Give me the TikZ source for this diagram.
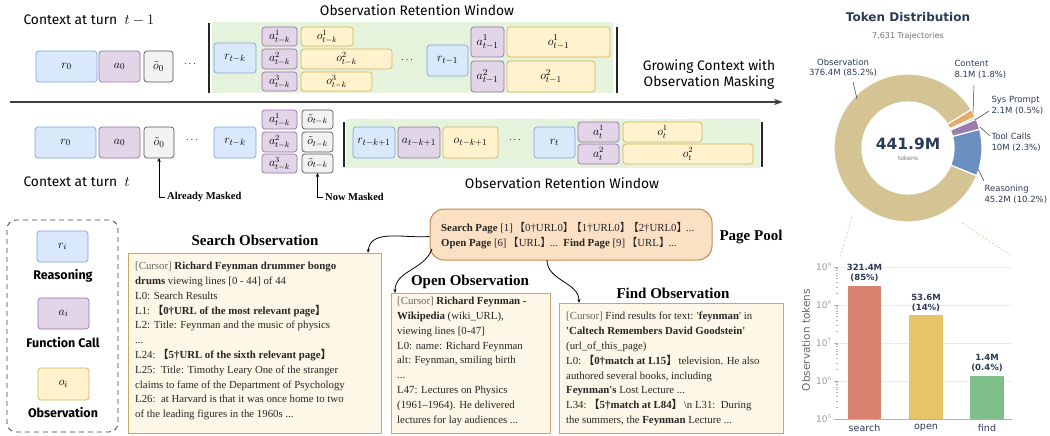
\documentclass[tikz,border=0pt]{standalone}
\usepackage{fontspec}
\setmainfont{Liberation Serif}
\newfontfamily\cjk{Noto Sans CJK SC}
\newfontfamily\hand{Fira Sans}
\newfontfamily\dv{DejaVu Sans}
\usetikzlibrary{arrows.meta}
\definecolor{rfill}{HTML}{DAE8FC}\definecolor{rdraw}{HTML}{7EA6E0}
\definecolor{afill}{HTML}{E1D5E7}\definecolor{adraw}{HTML}{9673A6}
\definecolor{ofill}{HTML}{FFF2CC}\definecolor{odraw}{HTML}{D6B656}
\definecolor{gfill}{HTML}{F2F2F2}\definecolor{gdraw}{HTML}{555555}
\definecolor{winfill}{HTML}{E5F2DC}
\definecolor{txtfill}{HTML}{FDF7E7}\definecolor{txtdraw}{HTML}{C9A865}
\definecolor{poolfill}{HTML}{FBE0C3}\definecolor{pooldraw}{HTML}{C08A50}
\definecolor{navy}{HTML}{2B3A55}
\definecolor{obscol}{HTML}{D4C494}\definecolor{contcol}{HTML}{E8A96A}
\definecolor{syscol}{HTML}{C4C4C4}\definecolor{toolcol}{HTML}{9B7BB0}
\definecolor{reascol}{HTML}{6B8FC0}
\definecolor{barA}{HTML}{D9826F}\definecolor{barB}{HTML}{E8C468}\definecolor{barC}{HTML}{7DBE8A}
\newcommand\lb{\hspace{-0.12em}{\cjk 【}}
\newcommand\rb{{\cjk 】}\hspace{-0.12em}}
\newcommand\sq{\textquotesingle}
\newcommand\boxat[7]{\node[#2, minimum width={(#5-#3)*1pt}, minimum height={(#6-#4)*1pt}] (#1) at ({(#3+#5)/2},{-(#4+#6)/2}) {#7};}
\newcommand\donutwedge[3]{\fill[#3, draw=white, line width=1.2pt] (#1:74pt) arc[start angle=#1, end angle=#2, radius=74pt] -- (#2:46pt) arc[start angle=#2, end angle=#1, radius=46pt] -- cycle;}
\begin{document}
\begin{tikzpicture}[x=1pt, y=1pt,
  cellbase/.style={draw, rounded corners=3pt, inner sep=0pt, outer sep=0pt, line width=0.7pt, font=\fontsize{13}{14}\selectfont},
  rbox/.style={cellbase, fill=rfill, draw=rdraw},
  abox/.style={cellbase, fill=afill, draw=adraw},
  obox/.style={cellbase, fill=ofill, draw=odraw},
  gbox/.style={cellbase, fill=gfill, draw=gdraw},
  small/.style={font=\fontsize{12}{12}\selectfont},
  winbg/.style={fill=winfill, draw=none, inner sep=0pt},
  sepbar/.style={line width=1.4pt, black!85},
  handtxt/.style={font=\hand\fontsize{13.8}{16}\selectfont},
  legtxt/.style={font=\hand\bfseries\fontsize{12.5}{14}\selectfont},
  masklbl/.style={font=\bfseries\fontsize{10.5}{12}\selectfont, anchor=west, inner sep=2pt},
  maskarrow/.style={-{Stealth[length=4pt,width=3.5pt]}, line width=0.7pt},
  txtbox/.style={draw=txtdraw, fill=txtfill, line width=1pt, inner sep=0pt},
  txtbody/.style={anchor=north west, align=left, inner sep=0pt, text=black!85, font=\fontsize{10.8}{14.8}\selectfont},
  obstitle/.style={font=\bfseries\fontsize{15}{17}\selectfont},
  link/.style={-{Stealth[length=4pt,width=3pt]}, line width=0.8pt},
  charttxt/.style={font=\dv\fontsize{8.5}{10.5}\selectfont, text=navy, align=left},
  leader/.style={draw=navy, line width=0.5pt},
  tick/.style={draw=black!30, line width=0.5pt}
]
\useasboundingbox (0,0) rectangle (1050,-436);

% ---------------- Row 1 : turn t-1 ----------------
\node[handtxt, anchor=west] (ctxA) at (20,-20) {Context at turn \ $t-1$};
\node[handtxt] (winA) at (417,-10) {Observation Retention Window};
\boxat{bgA}{winbg}{212}{22}{613}{93}{}
\boxat{r0A}{rbox}{36}{51}{97}{82}{$r_0$}
\boxat{a0A}{abox}{99}{51}{140}{82}{$a_0$}
\boxat{o0A}{gbox}{144}{51}{173}{82}{$\tilde o_0$}
\node (dotsA1) at (190,-64) {$\cdots$};
\draw[sepbar] (209,-23) -- (209,-93);
\boxat{rtkA}{rbox}{214}{43}{256}{73}{$r_{t-k}$}
\boxat{a1A}{abox,small}{262}{27}{297}{46}{$a^1_{t-k}$}
\boxat{a2A}{abox,small}{262}{49}{297}{69}{$a^2_{t-k}$}
\boxat{a3A}{abox,small}{262}{72}{297}{91}{$a^3_{t-k}$}
\boxat{o1A}{obox,small}{301}{27}{353}{46}{$o^1_{t-k}$}
\boxat{o2A}{obox,small}{301}{49}{392}{69}{$o^2_{t-k}$}
\boxat{o3A}{obox,small}{301}{72}{372}{91}{$o^3_{t-k}$}
\node (dotsA2) at (407,-60) {$\cdots$};
\boxat{rt1A}{rbox}{427}{45}{468}{76}{$r_{t-1}$}
\boxat{a1tA}{abox}{471}{27}{504}{57}{$a^1_{t-1}$}
\boxat{a2tA}{abox}{471}{61}{504}{92}{$a^2_{t-1}$}
\boxat{o1tA}{obox}{507}{27}{610}{57}{$o^1_{t-1}$}
\boxat{o2tA}{obox}{507}{61}{595}{92}{$o^2_{t-1}$}
\draw[sepbar] (617,-27) -- (617,-93);
\node[handtxt, align=center] (grow) at (709,-75) {Growing Context with\\Observation Masking};

% main arrow
\coordinate (arrL) at (10,-102);
\coordinate (arrR) at (783,-102);
\draw[line width=1.5pt, black!75, -{Stealth[length=9pt,width=6pt]}] (arrL) -- (arrR);

% ---------------- Row 2 : turn t ----------------
\boxat{bgB}{winbg}{346}{119}{760}{168}{}
\boxat{r0B}{rbox}{35}{127}{96}{158}{$r_0$}
\boxat{a0B}{abox}{99}{127}{140}{158}{$a_0$}
\boxat{o0B}{gbox}{144}{127}{174}{158}{$\tilde o_0$}
\node (dotsB1) at (192,-140) {$\cdots$};
\boxat{rtkB}{rbox}{214}{127}{256}{158}{$r_{t-k}$}
\boxat{a1B}{abox,small}{262}{110}{297}{129}{$a^1_{t-k}$}
\boxat{a2B}{abox,small}{262}{132}{297}{152}{$a^2_{t-k}$}
\boxat{a3B}{abox,small}{262}{154}{297}{173}{$a^3_{t-k}$}
\boxat{m1B}{gbox,small}{302}{110}{333}{129}{$\tilde o_{t-k}$}
\boxat{m2B}{gbox,small}{302}{132}{333}{152}{$\tilde o_{t-k}$}
\boxat{m3B}{gbox,small}{302}{154}{333}{173}{$\tilde o_{t-k}$}
\draw[sepbar] (344,-122) -- (344,-167);
\boxat{rk1B}{rbox}{353}{127}{395}{158}{$r_{t-k+1}$}
\boxat{ak1B}{abox}{398}{127}{440}{158}{$a_{t-k+1}$}
\boxat{ok1B}{obox}{443}{127}{498}{158}{$o_{t-k+1}$}
\node (dotsB2) at (515,-140) {$\cdots$};
\boxat{rtB}{rbox}{534}{127}{575}{158}{$r_t$}
\boxat{a1tB}{abox,small}{578}{122}{619}{142}{$a^1_t$}
\boxat{a2tB}{abox,small}{578}{144}{619}{164}{$a^2_t$}
\boxat{o1tB}{obox,small}{623}{122}{702}{142}{$o^1_t$}
\boxat{o2tB}{obox,small}{623}{144}{753}{164}{$o^2_t$}
\draw[sepbar] (762,-122) -- (762,-167);
\node[handtxt] (winB) at (562,-183) {Observation Retention Window};
\node[handtxt, anchor=west] (ctxB) at (20,-182) {Context at turn \ $t$};

\node[masklbl] (already) at (165,-197) {Already Masked};
\draw[maskarrow] (already.west) -| (o0B.south);
\node[masklbl] (nowm) at (323,-197) {Now Masked};
\draw[maskarrow] (nowm.west) -| (m3B.south);

% ---------------- Legend ----------------
\boxat{legend}{draw=black!75, dash pattern=on 5pt off 4pt, line width=0.8pt, rounded corners=9pt}{7}{220}{118}{432}{}
\boxat{legR}{rbox}{37}{231}{88}{262}{$r_i$}
\node[legtxt] (legRt) at (63,-276) {Reasoning};
\boxat{legA}{abox}{38}{298}{89}{329}{$a_i$}
\node[legtxt] (legAt) at (63,-343) {Function Call};
\boxat{legO}{obox}{38}{368}{89}{400}{$o_i$}
\node[legtxt] (legOt) at (63,-413) {Observation};

% ---------------- Observation boxes ----------------
\node[obstitle] (stitle) at (255,-240) {Search Observation};
\boxat{sbox}{txtbox}{128}{253}{381}{433}{}
\node[txtbody] (stext) at (135,-262) {%
{\color{black!60}{[}Cursor{]}} \textbf{Richard Feynman drummer bongo}\\
\textbf{drums} viewing lines [0 - 44] of 44\\
L0: Search Results\\
L1: \textbf{\lb 0†URL of the most relevant page\rb}\\
L2: Title: Feynman and the music of physics\\
...\\
L24: \textbf{\lb 5†URL of the sixth relevant page\rb}\\
L25:\ \ Title: Timothy Leary One of the stranger\\
claims to fame of the Department of Psychology\\
L26:\ \ at Harvard is that it was once home to two\\
of the leading figures in the 1960s ...};

\boxat{pool}{draw=pooldraw, fill=poolfill, line width=1pt, rounded corners=14pt}{430}{209}{712}{260}{}
\node[txtbody, font=\fontsize{10.8}{15}\selectfont] (pooltext) at (441,-222) {%
\textbf{Search Page} [1] \lb 0†URL0\rb\lb 1†URL0\rb\lb 2†URL0\rb ...\\
\textbf{Open Page} [6] \lb URL\rb ...\ \ \textbf{Find Page} [9] \lb URL\rb ...};
\node[obstitle, anchor=west] (pooltitle) at (716,-237) {Page Pool};

\node[obstitle] (otitle) at (470,-282) {Open Observation};
\boxat{obox2}{txtbox}{391}{293}{550}{433}{}
\node[txtbody] (otext) at (397,-297) {%
{\color{black!60}{[}Cursor{]}} \textbf{Richard Feynman -}\\
\textbf{Wikipedia} (wiki\_URL),\\
viewing lines [0-47]\\
L0: name: Richard Feynman\\
alt: Feynman, smiling birth\\
...\\
L47: Lectures on Physics\\
(1961–1964). He delivered\\
lectures for lay audiences ...};

\node[obstitle] (ftitle) at (673,-293) {Find Observation};
\boxat{fbox}{txtbox}{559}{303}{783}{433}{}
\node[txtbody] (ftext) at (566,-312) {%
{\color{black!60}{[}Cursor{]}} Find results for text: \sq\textbf{feynman}\sq\ in\\
\textbf{\sq Caltech Remembers David Goodstein\sq}\\
(url\_of\_this\_page)\\
L0: \textbf{\lb 0†match at L15\rb} television. He also\\
authored several books, including\\
\textbf{Feynman\sq s} Lost Lecture ...\\
L34: \textbf{\lb 5†match at L84\rb} \textbackslash n L31:\ \ During\\
the summers, the \textbf{Feynman} Lecture ...};

\coordinate (sIn) at (368,-253);
\coordinate (oIn) at (395,-293);
\coordinate (fIn) at (579,-303);
\draw[link] ([yshift=-2pt]pool.west) to[out=185, in=85] (sIn);
\draw[link] (432,-249) to[out=-110, in=90] (oIn);
\draw[link] (547,-260) to[out=-90, in=90] (fIn);

% ---------------- Donut ----------------
\node[font=\dv\bfseries\fontsize{12}{14}\selectfont, text=navy] (dtitle) at (908,-17) {Token Distribution};
\node[font=\dv\fontsize{8}{10}\selectfont, text=black!55] (dsub) at (908,-36) {7,631 Trajectories};
\begin{scope}[shift={(908,-148)}]
\donutwedge{-22}{14.7}{reascol}
\donutwedge{14.7}{23.0}{toolcol}
\donutwedge{23.0}{24.8}{syscol}
\donutwedge{24.8}{31.3}{contcol}
\donutwedge{31.3}{338}{obscol}
\end{scope}
\node[font=\dv\bfseries\fontsize{15.5}{17}\selectfont, text=navy] (dtotal) at (908,-144) {441.9M};
\node[font=\dv\fontsize{6}{7}\selectfont, text=black!55] (dtok) at (908,-158) {tokens};

\node[charttxt, align=center] (lObs) at (843,-68) {Observation\\376.4M (85.2\%)};
\node[charttxt, anchor=west] (lCont) at (951,-69.5) {Content\\8.1M (1.8\%)};
\node[charttxt, anchor=west] (lSys) at (988,-105.5) {Sys Prompt\\2.1M (0.5\%)};
\node[charttxt, anchor=west] (lTool) at (988,-142.5) {Tool Calls\\10M (2.3\%)};
\node[charttxt, anchor=west] (lReas) at (981,-194.5) {Reasoning\\45.2M (10.2\%)};
\draw[leader] (853,-82) -- (857,-99);
\draw[leader] (974,-85) -- (973,-113);
\draw[leader] (989,-111) -- (975,-120);
\draw[leader] (990,-136) -- (980,-127);
\draw[leader] (984,-181) -- (978,-169);

\draw[obscol, line width=0.6pt, dash pattern=on 2pt off 2pt] (852,-217) -- (840,-257);
\draw[obscol, line width=0.6pt, dash pattern=on 2pt off 2pt] (962,-223) -- (1012,-256);

% ---------------- Bar chart ----------------
\foreach \e in {6,7,8,9} {\draw[black!8, line width=0.5pt] (838,{-419+(\e-5)*38}) -- (1012,{-419+(\e-5)*38});}
\foreach \e in {5,6,7,8,9} {
  \draw[tick] (834,{-419+(\e-5)*38}) -- (838,{-419+(\e-5)*38});
  \node[anchor=east, inner sep=1pt, text=black!40, font=\dv\fontsize{9}{10}\selectfont] at (833,{-419+(\e-5)*38}) {10$^{\e}$};
}
\foreach \e in {5,6,7,8} {\foreach \m in {2,...,9} {
  \draw[tick] (836,{-419+(\e-5+log10(\m))*38}) -- (838,{-419+(\e-5+log10(\m))*38});
}}
\fill[barA] (848,-419) rectangle (881,-285.7);
\fill[barB] (909,-419) rectangle (943,-315.3);
\fill[barC] (970,-419) rectangle (1004,-375.5);
\draw[black!30, line width=0.6pt] (838,-419) -- (1012,-419);
\node[rotate=90, font=\dv\fontsize{10.5}{12}\selectfont, text=black!60] (ylab) at (806,-340) {Observation tokens};
\node[font=\dv\fontsize{9.5}{11}\selectfont, text=navy] (xs) at (864.5,-428) {search};
\node[font=\dv\fontsize{9.5}{11}\selectfont, text=navy] (xo) at (926,-428) {open};
\node[font=\dv\fontsize{9.5}{11}\selectfont, text=navy] (xf) at (987,-428) {find};
\node[charttxt, align=center, font=\dv\bfseries\fontsize{8.5}{10.5}\selectfont] (vs) at (864.5,-273) {321.4M\\(85\%)};
\node[charttxt, align=center, font=\dv\bfseries\fontsize{8.5}{10.5}\selectfont] (vo) at (926,-303) {53.6M\\(14\%)};
\node[charttxt, align=center, font=\dv\bfseries\fontsize{8.5}{10.5}\selectfont] (vf) at (987,-363) {1.4M\\(0.4\%)};
\end{tikzpicture}
\end{document}
